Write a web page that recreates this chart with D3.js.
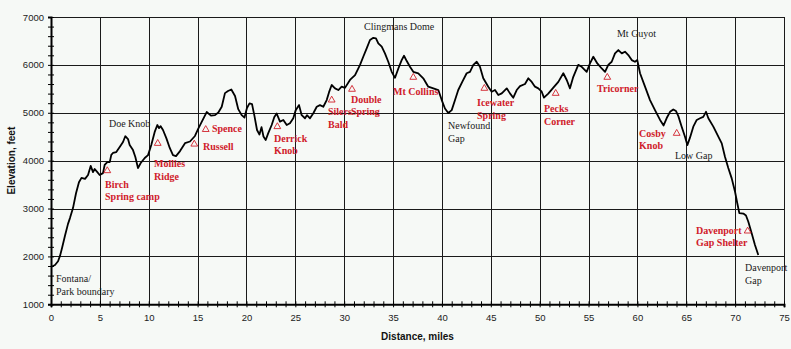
<!DOCTYPE html>
<html>
<head>
<meta charset="utf-8">
<script src="https://cdn.jsdelivr.net/npm/d3@7/dist/d3.min.js"></script>
<style>
  html, body { margin: 0; padding: 0; background: #f6f9f6; }
  svg { display: block; }
</style>
</head>
<body>
<svg id="chart" width="791" height="349"></svg>
<script>
// Trail profile: distance along the trail (miles) and elevation (feet)
const miles = [
  0.0,0.41,0.72,0.92,1.13,1.43,1.74,1.94,2.25,2.56,
  2.86,3.12,3.48,3.79,4.06,4.30,4.47,4.74,4.98,5.32,
  5.49,5.76,6.01,6.17,6.34,6.68,7.03,7.37,7.60,7.88,
  8.05,8.39,8.63,8.90,9.18,9.59,9.93,10.26,10.61,10.88,
  11.05,11.22,11.46,11.80,12.15,12.48,12.79,13.20,13.71,14.22,
  14.73,15.07,15.42,15.93,16.37,16.78,17.12,17.47,17.80,18.11,
  18.45,18.83,19.16,19.51,19.80,20.05,20.31,20.57,20.82,21.08,
  21.33,21.54,21.74,21.97,22.23,22.58,22.85,23.09,23.43,23.77,
  24.12,24.45,24.79,25.04,25.38,25.65,25.99,26.19,26.50,26.84,
  27.19,27.52,27.86,28.21,28.45,28.72,29.06,29.40,29.74,30.08,
  30.59,31.11,31.62,31.95,32.30,32.64,32.98,33.25,33.49,33.84,
  34.17,34.51,34.86,35.20,35.54,35.88,36.12,36.40,36.73,37.07,
  37.58,38.09,38.60,39.12,39.63,39.98,40.31,40.65,41.00,41.34,
  41.67,42.08,42.53,42.87,43.21,43.56,43.89,44.23,44.74,45.09,
  45.43,45.77,46.12,46.63,46.96,47.30,47.65,47.99,48.50,48.84,
  49.19,49.52,49.86,50.21,50.44,50.88,51.40,51.91,52.42,52.77,
  53.10,53.44,53.95,54.30,54.81,55.15,55.49,55.90,56.35,56.69,
  57.02,57.37,57.71,58.05,58.40,58.73,59.07,59.42,59.75,59.99,
  60.27,60.78,61.29,61.80,62.32,62.68,63.00,63.34,63.67,63.95,
  64.19,64.53,64.87,65.11,65.38,65.72,66.07,66.41,66.74,67.02,
  67.26,67.77,68.28,68.63,68.96,69.30,69.65,69.99,70.22,70.43,
  70.84,71.11,71.35,71.70,72.03,72.37
];
const elevation = [
  1780,1820,1900,2010,2175,2430,2680,2800,3010,3320,
  3550,3640,3620,3700,3890,3760,3825,3760,3700,3740,
  3910,3970,3970,4120,4160,4180,4285,4390,4510,4450,
  4325,4220,4075,3845,3950,4055,4115,4325,4600,4745,
  4680,4720,4640,4470,4265,4115,4095,4200,4365,4400,
  4515,4670,4810,5015,4940,4950,5005,5125,5410,5455,
  5485,5350,5075,4950,4900,5100,5195,5180,4930,4640,
  4545,4700,4505,4430,4575,4745,4910,4985,4815,4850,
  4745,4780,4885,5055,5160,4950,4885,4950,4885,4990,
  5125,5160,5125,5265,5430,5580,5510,5475,5545,5520,
  5685,5785,6000,6170,6345,6520,6565,6555,6450,6380,
  6240,6065,5855,5730,5925,6100,6190,6080,5960,5855,
  5825,5720,5545,5510,5475,5265,5090,4995,5055,5265,
  5475,5645,5825,5855,6000,6065,5960,5720,5545,5440,
  5475,5370,5405,5510,5405,5315,5475,5555,5600,5720,
  5645,5545,5510,5440,5315,5400,5525,5645,5825,5685,
  5510,5750,6000,5960,5855,6030,6170,6030,5925,5855,
  6000,6065,6240,6310,6240,6275,6205,6100,6065,6100,
  5825,5545,5265,5055,4850,4735,4890,5020,5070,5035,
  4930,4710,4500,4325,4480,4710,4850,4885,4915,5020,
  4885,4710,4500,4360,4080,3845,3630,3350,3110,2905,
  2895,2855,2725,2480,2240,2030
];

// Axis ticks
const xTicks = [0,5,10,15,20,25,30,35,40,45,50,55,60,65,70,75];
const yTicks = [1000,2000,3000,4000,5000,6000,7000];

// Landmarks (black): text lines, anchored at mile / elevation
const landmarkNames = [
  ["Doe Knob"], ["Clingmans Dome"], ["Newfound", "Gap"], ["Mt Guyot"],
  ["Low Gap"], ["Fontana/", "Park boundary"], ["Davenport", "Gap"]
];
const landmarkMiles = [5.93, 32.03, 40.62, 57.91, 63.85, 0.51, 71.01];
const landmarkElev  = [4700, 6725, 4660, 6580, 4035, 1465, 1695];

// Shelters (red): marker position and label position
const shelterNames = [
  ["Birch", "Spring camp"], ["Mollies", "Ridge"], ["Spence"], ["Russell"],
  ["Derrick", "Knob"], ["Silers", "Bald"], ["Double", "Spring"], ["Mt Collins"],
  ["Icewater", "Spring"], ["Pecks", "Corner"], ["Tricorner"], ["Cosby", "Knob"],
  ["Davenport", "Gap Shelter"]
];
const shelterMiles = [5.76, 10.92, 15.83, 14.66, 23.16, 28.72, 30.80, 37.07, 44.34, 51.64, 56.92, 64.02, 71.28];
const shelterElev  = [3790, 4360, 4650, 4345, 4710, 5265, 5490, 5740, 5510, 5405, 5740, 4570, 2530];
const shelterLabelMiles = [5.53, 10.54, 16.47, 15.55, 22.82, 28.34, 30.69, 35.00, 43.59, 50.44, 55.87, 60.17, 66.00];
const shelterLabelElev  = [3430, 3865, 4600, 4220, 4390, 4950, 5205, 5370, 5140, 5015, 5430, 4495, 2470];

const svg = d3.select("#chart");
const W = 791, H = 349;
const plotLeft = 51, plotRight = 784, plotTop = 17, plotBottom = 304.3;

const x = d3.scaleLinear().domain([0, 75]).range([plotLeft, plotRight]);
const y = d3.scaleLinear().domain([1000, 7000]).range([plotBottom, plotTop]);

svg.append("rect").attr("width", W).attr("height", H).attr("fill", "#f6f9f6");

// Grid
const grid = svg.append("g").attr("stroke", "#1a1a1a").attr("stroke-width", 1);
grid.selectAll("line.v").data(xTicks.filter(d => d > 0)).join("line")
  .attr("class", "v")
  .attr("x1", d => Math.round(x(d)) + 0.5).attr("x2", d => Math.round(x(d)) + 0.5)
  .attr("y1", y(7000)).attr("y2", y(1000));
grid.selectAll("line.h").data(yTicks.filter(d => d > 1000)).join("line")
  .attr("class", "h")
  .attr("y1", d => Math.round(y(d)) + 0.5).attr("y2", d => Math.round(y(d)) + 0.5)
  .attr("x1", x(0)).attr("x2", x(75));

// Axes: minor ticks crossing the axis line, labels on major ticks
const tickFont = "'Liberation Sans', Arial, sans-serif";
function styleAxis(g) {
  g.select(".domain").attr("stroke", "#000").attr("stroke-width", 2);
  g.selectAll(".tick line").attr("stroke", "#000").attr("stroke-width", 1);
  g.selectAll(".tick text").attr("fill", "#222").attr("font-family", tickFont).attr("font-size", 9.5);
}
const yMinor = d3.range(1000, 7001, 200);
const xMinor = d3.range(0, 75.01, 1);

svg.append("g").attr("transform", `translate(${plotLeft},0)`)
  .call(d3.axisLeft(y).tickValues(yMinor).tickSize(3).tickFormat(""))
  .call(styleAxis);
svg.append("g").attr("transform", `translate(${plotLeft},0)`)
  .call(d3.axisRight(y).tickValues(yMinor).tickSize(3).tickFormat(""))
  .call(g => g.select(".domain").remove())
  .call(styleAxis);
svg.append("g").attr("transform", `translate(${plotLeft},0)`)
  .call(d3.axisLeft(y).tickValues(yTicks).tickSize(0).tickPadding(7).tickFormat(d3.format("d")))
  .call(g => g.select(".domain").remove())
  .call(styleAxis);

svg.append("g").attr("transform", `translate(0,${plotBottom})`)
  .call(d3.axisBottom(x).tickValues(xMinor).tickSize(3).tickFormat(""))
  .call(styleAxis);
svg.append("g").attr("transform", `translate(0,${plotBottom})`)
  .call(d3.axisTop(x).tickValues(xMinor).tickSize(3).tickFormat(""))
  .call(g => g.select(".domain").remove())
  .call(styleAxis);
svg.append("g").attr("transform", `translate(0,${plotBottom})`)
  .call(d3.axisBottom(x).tickValues(xTicks).tickSize(0).tickPadding(10).tickFormat(d3.format("d")))
  .call(g => g.select(".domain").remove())
  .call(styleAxis);

// Axis titles
svg.append("text")
  .attr("x", (plotLeft + plotRight) / 2).attr("y", 340)
  .attr("text-anchor", "middle")
  .attr("font-family", tickFont).attr("font-weight", "bold").attr("font-size", 10)
  .attr("fill", "#111")
  .text("Distance, miles");
svg.append("text")
  .attr("transform", `translate(15,${(plotTop + plotBottom) / 2}) rotate(-90)`)
  .attr("text-anchor", "middle")
  .attr("font-family", tickFont).attr("font-weight", "bold").attr("font-size", 10)
  .attr("fill", "#111")
  .text("Elevation, feet");

// Elevation profile
const profile = d3.zip(miles, elevation);
svg.append("path")
  .datum(profile)
  .attr("fill", "none")
  .attr("stroke", "#000")
  .attr("stroke-width", 1.8)
  .attr("stroke-linejoin", "round")
  .attr("d", d3.line().x(d => x(d[0])).y(d => y(d[1])));

// Multi-line label helper
const serif = "'Liberation Serif', 'Times New Roman', serif";
function addLabel(lines, mx, ey, color, weight) {
  const t = svg.append("text")
    .attr("x", x(mx)).attr("y", y(ey))
    .attr("font-family", serif).attr("font-size", 10)
    .attr("font-weight", weight).attr("fill", color);
  lines.forEach((s, i) => {
    t.append("tspan").attr("x", x(mx)).attr("dy", i === 0 ? 0 : 12.5).text(s);
  });
}

landmarkNames.forEach((lines, i) =>
  addLabel(lines, landmarkMiles[i], landmarkElev[i], "#1a1a1a", "normal"));

const red = "#d0202a";
shelterNames.forEach((lines, i) =>
  addLabel(lines, shelterLabelMiles[i], shelterLabelElev[i], red, "bold"));

// Shelter markers
svg.append("g").selectAll("path")
  .data(d3.zip(shelterMiles, shelterElev))
  .join("path")
  .attr("transform", d => `translate(${x(d[0])},${y(d[1])})`)
  .attr("d", d3.symbol(d3.symbolTriangle, 20))
  .attr("fill", "none")
  .attr("stroke", red)
  .attr("stroke-width", 0.9);
</script>
</body>
</html>
